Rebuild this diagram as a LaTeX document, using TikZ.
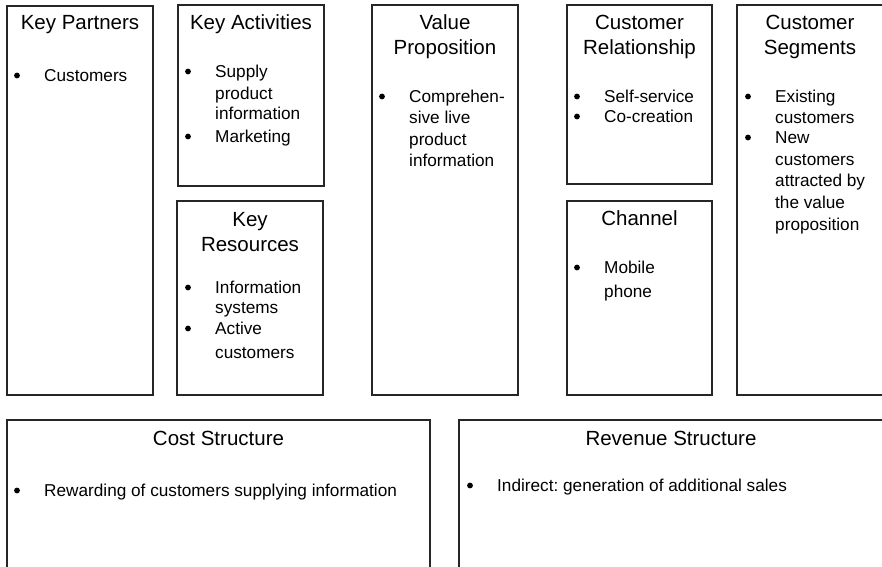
\documentclass[tikz,border=0pt]{standalone}
\usepackage{fontspec}
\setmainfont{Liberation Sans}
\frenchspacing
\begin{document}
\begin{tikzpicture}[x=1pt,y=-1pt,
  boxframe/.style={draw=black!85,line width=1.1pt},
  titletxt/.style={font=\fontsize{20.5}{24}\selectfont,anchor=base,inner sep=0pt},
  bodytxt/.style={font=\fontsize{17.2}{21}\selectfont,anchor=base west,inner sep=0pt},
  bulletdot/.style={circle,fill=black,inner sep=0pt,minimum size=5.8pt}]
\useasboundingbox (0,0) rectangle (882,566);
\clip (0,0) rectangle (882,566);
\newcommand\tline[4]{\node[bodytxt] (#1) at (#2,#3) {#4};}
\newcommand\ttl[4]{\node[titletxt] (#1) at (#2,#3) {#4};}
\newcommand\bdot[3]{\node[bulletdot] (#1) at (#2,#3) {};}
% boxes
\draw[boxframe] (7,6) rectangle (153,395);
\draw[boxframe] (178,5) rectangle (324,186);
\draw[boxframe] (177,201) rectangle (323,395);
\draw[boxframe] (372,5) rectangle (518,395);
\draw[boxframe] (567,5) rectangle (712,184);
\draw[boxframe] (567,201) rectangle (712,395);
\draw[boxframe] (737,5) rectangle (884,395);
\draw[boxframe] (7,420) rectangle (430,580);
\draw[boxframe] (459,420) rectangle (884,580);
% Key Partners
\ttl{kpt}{80}{29}{Key Partners}
\bdot{kpb1}{17}{75.5}
\tline{kp1}{44}{81}{Customers}
% Key Activities
\ttl{kat}{251}{29}{Key Activities}
\bdot{kab1}{188}{71.5}
\tline{ka1}{215}{77}{Supply}
\tline{ka2}{215}{99}{product}
\tline{ka3}{215}{119}{information}
\bdot{kab2}{188}{136.5}
\tline{ka4}{215}{142}{Marketing}
% Key Resources
\ttl{krt1}{250}{226}{Key}
\ttl{krt2}{250}{251}{Resources}
\bdot{krb1}{188}{287.5}
\tline{kr1}{215}{293}{Information}
\tline{kr2}{215}{313}{systems}
\bdot{krb2}{188}{328.5}
\tline{kr3}{215}{334}{Active}
\tline{kr4}{215}{358}{customers}
% Value Proposition
\ttl{vpt1}{445}{29}{Value}
\ttl{vpt2}{445}{54}{Proposition}
\bdot{vpb1}{382}{96.5}
\tline{vp1}{409}{102}{Comprehen-}
\tline{vp2}{409}{123}{sive live}
\tline{vp3}{409}{145}{product}
\tline{vp4}{409}{166}{information}
% Customer Relationship
\ttl{crt1}{639.5}{29}{Customer}
\ttl{crt2}{639.5}{54}{Relationship}
\bdot{crb1}{577}{96.5}
\tline{cr1}{604}{102}{Self-service}
\bdot{crb2}{577}{116.5}
\tline{cr2}{604}{122}{Co-creation}
% Channel
\ttl{cht}{639.5}{225}{Channel}
\bdot{chb1}{577}{267.5}
\tline{ch1}{604}{273}{Mobile}
\tline{ch2}{604}{297}{phone}
% Customer Segments
\ttl{cst1}{810}{29}{Customer}
\ttl{cst2}{810}{54}{Segments}
\bdot{csb1}{748}{96.5}
\tline{cs1}{775}{102}{Existing}
\tline{cs2}{775}{123}{customers}
\bdot{csb2}{748}{137.5}
\tline{cs3}{775}{143}{New}
\tline{cs4}{775}{165}{customers}
\tline{cs5}{775}{186}{attracted by}
\tline{cs6}{775}{208}{the value}
\tline{cs7}{775}{230}{proposition}
% Cost Structure
\ttl{cot}{218.5}{445}{Cost Structure}
\bdot{cob1}{17}{490.5}
\tline{co1}{44}{496}{Rewarding of customers supplying information}
% Revenue Structure
\ttl{ret}{671}{445}{Revenue Structure}
\bdot{reb1}{470}{485.5}
\tline{re1}{497}{491}{Indirect: generation of additional sales}
\end{tikzpicture}
\end{document}
